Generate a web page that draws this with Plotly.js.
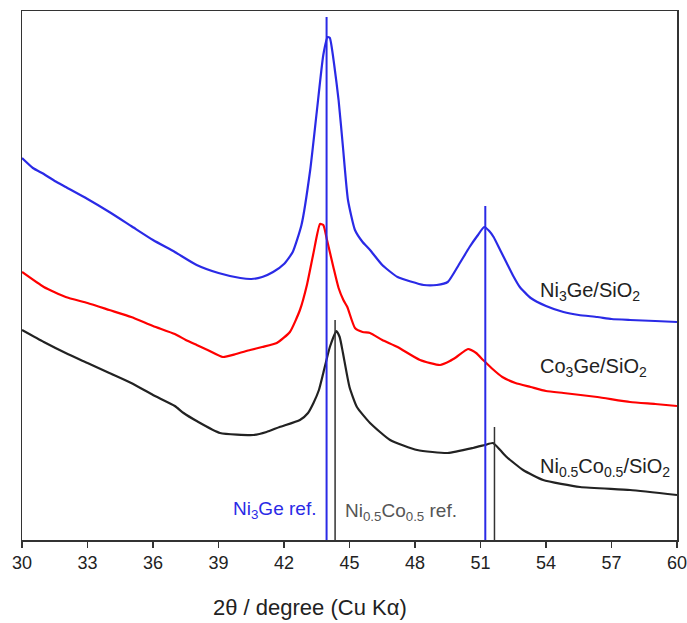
<!DOCTYPE html>
<html><head><meta charset="utf-8">
<script src="https://cdn.plot.ly/plotly-3.0.1.min.js"></script>
<style>html,body{margin:0;padding:0;background:#fff}</style>
</head><body>
<div id="chart" style="width:687px;height:623px"></div>
<script>
// 2θ positions and intensities (arbitrary units)
const ni3geX = [30,30.5,31,31.5,32,33,34,35,36,37,38,39,40,40.5,41,41.5,42,42.4,42.8,43.2,43.5,43.8,44.0,44.1,44.3,44.5,44.7,44.93,45.25,45.6,45.94,46.5,47.2,48.4,49.0,49.5,50.0,50.5,50.85,51.17,51.4,51.6,51.9,52.2,52.5,52.8,53.3,54,54.8,55.5,56.35,57,57.85,59,60];
const ni3geY = [382,372,366,359,353,341,328,314,300,288,275,267,262,261,263,268,276,288,315,370,428,485,503,502,475,440,393,340,310,298,290,275,263,255,255,258,275,293,304,313,309,303,290,277,264,253,242,234,228,225,223,221,220,219,218];

const co3geX = [30,31,32,33,34,35,36,37,37.5,38,38.5,39.2,39.8,40.45,41,41.67,42.27,42.73,43.05,43.35,43.65,43.8,43.97,44.26,44.5,44.72,44.9,45.25,45.6,45.94,46.5,47.2,48.23,49.15,49.6,49.9,50.43,50.8,51.12,51.5,52.0,52.6,53.3,54,54.8,56.35,57.85,59,60];
const co3geY = [268,253,243,237,230,223,214,206,200,195,190,183,186,190,193,197,208,230,255,287,316,315,300,273,252,240,233,212,208,207,200,193,180,175,179,183,191,187,180,172,163,157,153,149,147,143,138,136,134];

const nicoX = [30,31,32,33,34,35,36,37,37.4,38,39.07,40.6,41.2,41.8,42.73,43.1,43.35,43.6,43.8,44.1,44.4,44.55,44.7,45.0,45.34,45.94,46.86,48.1,49.5,50.66,51.2,51.57,51.9,52.2,52.95,53.87,55.56,57.85,60];
const nicoY = [210,198,187,177,167,157,145,134,127,119,107,105,108,113,120,127,137,150,167,193,209,203,187,153,133,117,100,90,87,92,95,97,90,83,70,60,53,50,45];

// reference stick patterns
const refNi3GeX = [43.95, 51.22];
const refNi3GeY = [523, 334];
const refNiCoX = [44.34, 51.64];
const refNiCoY = [220, 113];

const xTicks = [30,33,36,39,42,45,48,51,54,57,60];

function sticks(xs, ys){
  const x=[], y=[];
  xs.forEach((v,i)=>{x.push(v,v,null); y.push(0,ys[i],null);});
  return {x,y};
}
const s1 = sticks(refNi3GeX, refNi3GeY);
const s2 = sticks(refNiCoX, refNiCoY);

const traces = [
  {x: nicoX, y: nicoY, mode:'lines', line:{color:'#222222', width:2.2, shape:'spline', smoothing:0.5}},
  {x: co3geX, y: co3geY, mode:'lines', line:{color:'#ff0000', width:2.2, shape:'spline', smoothing:0.5}},
  {x: ni3geX, y: ni3geY, mode:'lines', line:{color:'#2a2ae6', width:2.2, shape:'spline', smoothing:0.5}},
  {x: s2.x, y: s2.y, mode:'lines', line:{color:'#333333', width:1.5}},
  {x: s1.x, y: s1.y, mode:'lines', line:{color:'#2a2ae6', width:2}}
];

const f = 'Arial, "Liberation Sans", sans-serif';
const layout = {
  width:687, height:623,
  margin:{l:22, r:10, t:11, b:83},
  showlegend:false,
  paper_bgcolor:'#fff', plot_bgcolor:'#fff',
  font:{family:f, color:'#222'},
  xaxis:{range:[30,60], tickvals:xTicks, ticks:'outside', ticklen:6, tickwidth:1.2, tickcolor:'#333',
    showline:true, mirror:true, linecolor:'#333', linewidth:1.5, showgrid:false, zeroline:false,
    ticklabeloverflow:'allow', automargin:false,
    tickfont:{size:18, family:f, color:'#222'}},
  yaxis:{range:[0,529], showticklabels:false, ticks:'', showline:true, mirror:true, linecolor:'#333', linewidth:1.5,
    showgrid:false, zeroline:false},
  annotations:[
    {text:'2θ / degree (Cu Kα)', xref:'paper', yref:'paper', x:(310-22)/655, y:-(607-540)/529, showarrow:false,
      xanchor:'center', yanchor:'middle', font:{size:22, family:f, color:'#222'}},
    {text:'Ni<sub>3</sub>Ge/SiO<sub>2</sub>', xref:'x', yref:'y', x:53.63, y:540-291, showarrow:false, xanchor:'left', yanchor:'middle', font:{size:20, family:f, color:'#222'}},
    {text:'Co<sub>3</sub>Ge/SiO<sub>2</sub>', xref:'x', yref:'y', x:53.63, y:540-367, showarrow:false, xanchor:'left', yanchor:'middle', font:{size:20, family:f, color:'#222'}},
    {text:'Ni<sub>0.5</sub>Co<sub>0.5</sub>/SiO<sub>2</sub>', xref:'x', yref:'y', x:53.63, y:540-467, showarrow:false, xanchor:'left', yanchor:'middle', font:{size:20, family:f, color:'#222'}},
    {text:'Ni<sub>3</sub>Ge ref.', xref:'x', yref:'y', x:43.55, y:540-510, showarrow:false, xanchor:'right', yanchor:'middle', font:{size:19, family:f, color:'#2a2ae6'}},
    {text:'Ni<sub>0.5</sub>Co<sub>0.5</sub> ref.', xref:'x', yref:'y', x:44.68, y:540-512, showarrow:false, xanchor:'left', yanchor:'middle', font:{size:19, family:f, color:'#555'}}
  ]
};
Plotly.newPlot('chart', traces, layout, {displayModeBar:false, staticPlot:true});
</script>
</body></html>
